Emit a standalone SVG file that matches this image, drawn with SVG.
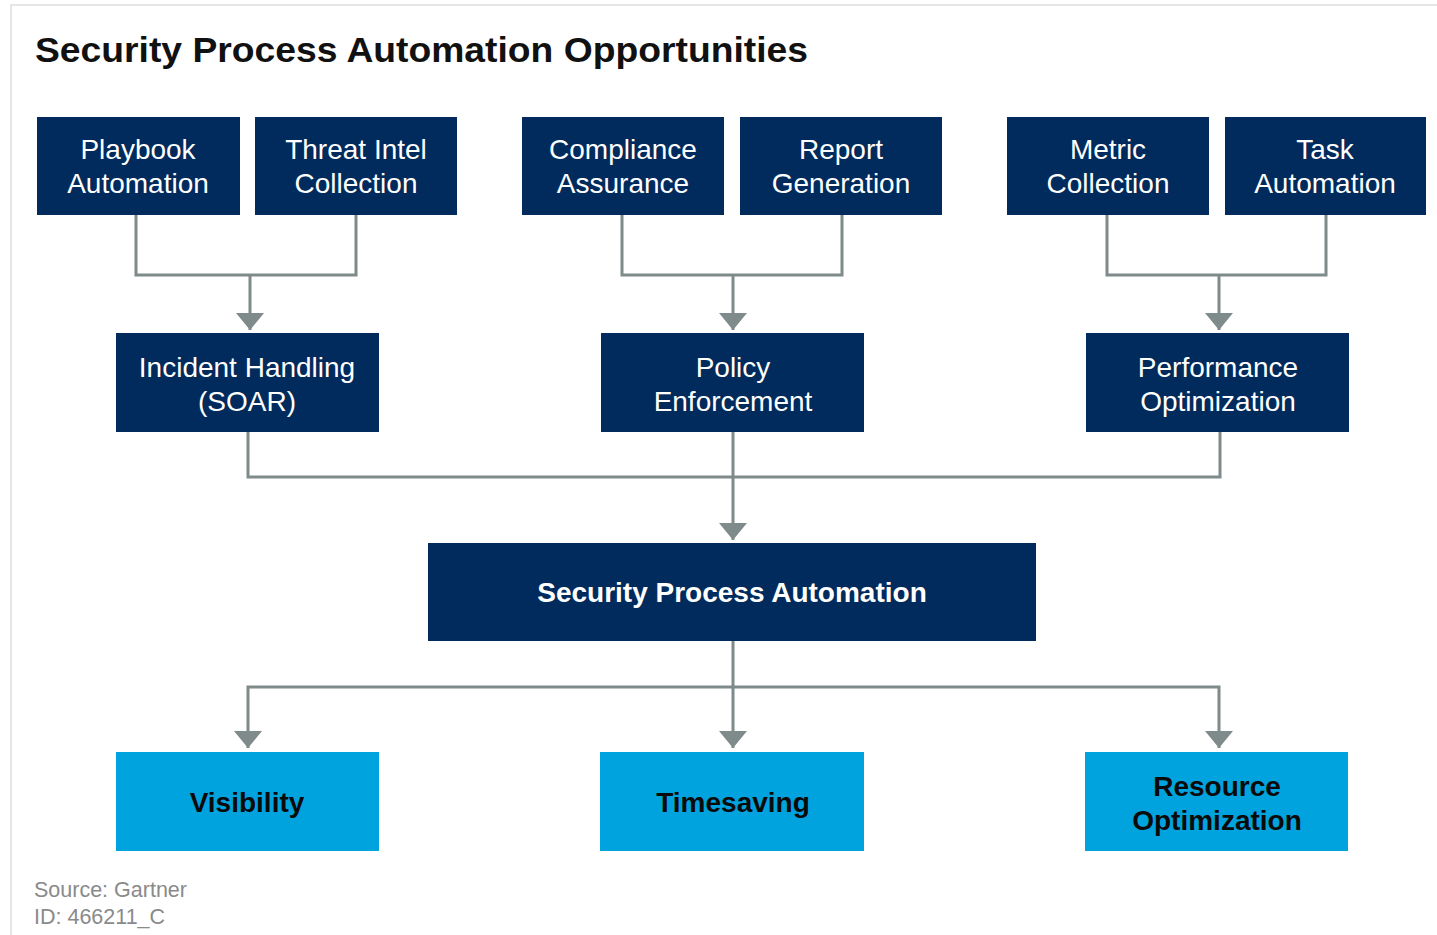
<svg xmlns="http://www.w3.org/2000/svg" width="1437" height="935" viewBox="0 0 1437 935">
<defs>
<style>
.n{fill:#002B5C}
.b{fill:#00A3DD}
.t{font-family:"Liberation Sans",Arial,sans-serif;font-size:28px;fill:#fff;text-anchor:middle}
.tb{font-family:"Liberation Sans",Arial,sans-serif;font-size:28px;font-weight:bold;text-anchor:middle}
.c{fill:none;stroke:#7F8A8A;stroke-width:3}
.s{font-family:"Liberation Sans",Arial,sans-serif;font-size:21.5px;fill:#8a8a8a}
</style>
<marker id="a" viewBox="0 0 17 28" refX="17" refY="14" markerWidth="17" markerHeight="28" markerUnits="userSpaceOnUse" orient="auto">
<path d="M0,0 L17,14 L0,28 z" fill="#7F8A8A"/>
</marker>
</defs>
<rect x="0" y="0" width="1437" height="935" fill="#fff"/>
<path d="M11,935 V5 H1437" fill="none" stroke="#e6e6e6" stroke-width="2"/>
<text x="35" y="62" font-family="Liberation Sans,Arial,sans-serif" font-size="35" font-weight="bold" fill="#111" textLength="773" lengthAdjust="spacingAndGlyphs">Security Process Automation Opportunities</text>
<g id="connectors">
<path class="c" d="M136,215 V275 H356 V215"/>
<path class="c" d="M250,275 V330" marker-end="url(#a)"/>
<path class="c" d="M622,215 V275 H842 V215"/>
<path class="c" d="M733,275 V330" marker-end="url(#a)"/>
<path class="c" d="M1107,215 V275 H1326 V215"/>
<path class="c" d="M1219,275 V330" marker-end="url(#a)"/>
<path class="c" d="M248,432 V477 H1220 V432"/>
<path class="c" d="M733,432 V540" marker-end="url(#a)"/>
<path class="c" d="M733,641 V687"/>
<path class="c" d="M733,687 H248 V748" marker-end="url(#a)"/>
<path class="c" d="M733,687 V748" marker-end="url(#a)"/>
<path class="c" d="M733,687 H1219 V748" marker-end="url(#a)"/>
</g>
<g id="playbook"><rect class="n" x="37" y="117" width="203" height="98"/><text class="t" x="138" y="159">Playbook</text><text class="t" x="138" y="193">Automation</text></g>
<g id="threat"><rect class="n" x="255" y="117" width="202" height="98"/><text class="t" x="356" y="159">Threat Intel</text><text class="t" x="356" y="193">Collection</text></g>
<g id="compliance"><rect class="n" x="522" y="117" width="202" height="98"/><text class="t" x="623" y="159">Compliance</text><text class="t" x="623" y="193">Assurance</text></g>
<g id="report"><rect class="n" x="740" y="117" width="202" height="98"/><text class="t" x="841" y="159">Report</text><text class="t" x="841" y="193">Generation</text></g>
<g id="metric"><rect class="n" x="1007" y="117" width="202" height="98"/><text class="t" x="1108" y="159">Metric</text><text class="t" x="1108" y="193">Collection</text></g>
<g id="task"><rect class="n" x="1225" y="117" width="201" height="98"/><text class="t" x="1325" y="159">Task</text><text class="t" x="1325" y="193">Automation</text></g>
<g id="incident"><rect class="n" x="116" y="333" width="263" height="99"/><text class="t" x="247" y="377">Incident Handling</text><text class="t" x="247" y="411">(SOAR)</text></g>
<g id="policy"><rect class="n" x="601" y="333" width="263" height="99"/><text class="t" x="733" y="377">Policy</text><text class="t" x="733" y="411">Enforcement</text></g>
<g id="performance"><rect class="n" x="1086" y="333" width="263" height="99"/><text class="t" x="1218" y="377">Performance</text><text class="t" x="1218" y="411">Optimization</text></g>
<g id="spa"><rect class="n" x="428" y="543" width="608" height="98"/><text class="tb" x="732" y="602" fill="#fff">Security Process Automation</text></g>
<g id="visibility"><rect class="b" x="116" y="752" width="263" height="99"/><text class="tb" x="247" y="812" fill="#0a0a0a">Visibility</text></g>
<g id="timesaving"><rect class="b" x="600" y="752" width="264" height="99"/><text class="tb" x="733" y="812" fill="#0a0a0a">Timesaving</text></g>
<g id="resource"><rect class="b" x="1085" y="752" width="263" height="99"/><text class="tb" x="1217" y="796" fill="#0a0a0a">Resource</text><text class="tb" x="1217" y="830" fill="#0a0a0a">Optimization</text></g>
<text class="s" x="34" y="897">Source: Gartner</text>
<text class="s" x="34" y="924">ID: 466211_C</text>
</svg>
